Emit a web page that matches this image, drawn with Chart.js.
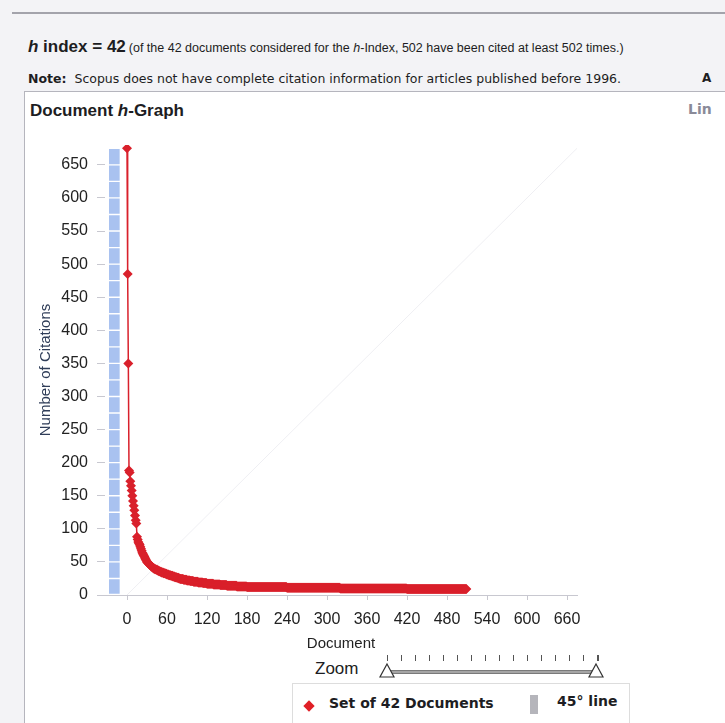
<!DOCTYPE html>
<html>
<head>
<meta charset="utf-8">
<script src="https://cdn.jsdelivr.net/npm/chart.js@4.4.1/dist/chart.umd.min.js"></script>
<style>
  body { margin:0; width:725px; height:723px; overflow:hidden; position:relative; background:#f3f3f6;
         font-family:"Liberation Sans", Arial, sans-serif; color:#1d1d22; }
  .abs { position:absolute; white-space:nowrap; }
  #topRule { left:12px; right:0; top:12px; height:0; border-top:2px solid #a3a3ab; }
  #hIndex { left:28px; top:37px; font-size:17px; font-weight:bold; }
  #hIndex small { font-size:12.5px; font-weight:normal; margin-left:3px; }
  #note { left:28px; top:71px; font-family:"DejaVu Sans", Verdana, sans-serif; font-size:12.5px; }
  #noteA { left:702px; top:71px; font-family:"DejaVu Sans", Verdana, sans-serif; font-size:12px; font-weight:bold; }
  #panel { left:24px; top:91px; width:720px; height:650px; background:#fff;
           border-left:1px solid #b5b5bd; border-top:1px solid #b5b5bd; }
  #graphTitle { left:30px; top:101px; font-size:17px; font-weight:bold; }
  #linkTab { left:688px; top:101px; font-family:"DejaVu Sans", Verdana, sans-serif; font-weight:bold; font-size:14px; color:#8a8a98; }
  #chartBox { left:26px; top:120px; width:600px; height:535px; }
  #zoomLabel { left:315px; top:659px; font-size:17px; }
  #track { left:386px; top:670px; width:210px; height:2px; background:#a5a5a5; border:1px solid #7a7a7a; }
  .ztick { position:absolute; top:655px; width:1px; height:6px; background:#555; }
  #legend { left:292px; top:683px; width:336px; height:50px; background:#fff; border:1px solid #ddd; }
  #legDiamond { left:305px; top:702px; width:8px; height:8px; background:#e01f26; transform:rotate(45deg); }
  #legSet { left:329px; top:695px; font-family:"DejaVu Sans", Verdana, sans-serif; font-weight:bold; font-size:14px; }
  #legBar { left:530px; top:695px; width:8px; height:19px; background:#b5b5bb; }
  #legLine { left:557px; top:693px; font-family:"DejaVu Sans", Verdana, sans-serif; font-weight:bold; font-size:14px; }
</style>
</head>
<body>
<div id="topRule" class="abs"></div>
<div id="hIndex" class="abs"><i>h</i> index = 42<small>(of the 42 documents considered for the <i>h</i>-Index, 502 have been cited at least 502 times.)</small></div>
<div id="note" class="abs"><b>Note:</b>&nbsp; Scopus does not have complete citation information for articles published before 1996.</div>
<div id="noteA" class="abs">A</div>
<div id="panel" class="abs"></div>
<div id="graphTitle" class="abs">Document <i>h</i>-Graph</div>
<div id="linkTab" class="abs">Lin</div>
<div id="chartBox" class="abs"><canvas id="hGraph"></canvas></div>
<div id="zoomLabel" class="abs">Zoom</div>
<div id="track" class="abs"></div>
<svg class="abs" style="left:378px;top:662px" width="18" height="18"><path d="M9 2 L16 15 L2 15 Z" fill="#fff" stroke="#333" stroke-width="1.2"/></svg>
<svg class="abs" style="left:587px;top:662px" width="18" height="18"><path d="M9 2 L16 15 L2 15 Z" fill="#fff" stroke="#333" stroke-width="1.2"/></svg>
<div id="legend" class="abs"></div>
<div id="legDiamond" class="abs"></div>
<div id="legSet" class="abs">Set of 42 Documents</div>
<div id="legBar" class="abs"></div>
<div id="legLine" class="abs">45° line</div>

<script>
// citations per document, sorted high to low (first 40 read one by one)
const topCitations = [675, 485, 350, 188, 185, 172, 165, 158, 150, 142, 135, 128, 120, 113, 108, 88, 84, 80, 78, 76,
  73, 70, 67, 64, 62, 60, 58, 56, 54, 52, 50, 49, 48, 47, 46, 45, 44, 43, 42, 41];
// long tail: citation count and how many documents have it
const tailCitations = [40, 39, 38, 37, 36, 35, 34, 33, 32, 31, 30, 29, 28, 27, 26, 25,
  24, 23, 22, 21, 20, 19, 18, 17, 16, 15, 14, 13, 12, 11, 10, 9];
const tailDocCounts = [2, 2, 2, 2, 2, 2, 3, 3, 2, 3, 3, 3, 3, 3, 3, 2,
  5, 5, 5, 5, 7, 7, 6, 10, 10, 10, 15, 15, 60, 80, 100, 90];

// 45 degree line end points
const diagonalLine = [{ x: 0, y: 0 }, { x: 680, y: 680 }];
// the blue column at the left, in blocks of 25 citations
const columnEdges = [0, 25, 50, 75, 100, 125, 150, 175, 200, 225, 250, 275, 300, 325, 350, 375,
  400, 425, 450, 475, 500, 525, 550, 575, 600, 625, 650, 675];
const columnDoc = -19;

const docTicks = [0, 60, 120, 180, 240, 300, 360, 420, 480, 540, 600, 660];
const citationTicks = [0, 50, 100, 150, 200, 250, 300, 350, 400, 450, 500, 550, 600, 650];

const citations = [...topCitations];
tailCitations.forEach((c, i) => {
  for (let k = 0; k < tailDocCounts[i]; k++) citations.push(c);
});
const docPoints = citations.map((c, i) => ({ x: i, y: c }));

const columnBlocks = [];
for (let i = 0; i < columnEdges.length - 1; i++) {
  columnBlocks.push({ x: columnDoc, y: [columnEdges[i], columnEdges[i + 1]] });
}

const axisFont = { family: "'Liberation Sans', Arial, sans-serif", size: 16 };

new Chart(document.getElementById("hGraph"), {
  type: "line",
  data: {
    datasets: [
      {
        label: "Set of 42 Documents",
        data: docPoints,
        borderColor: "#d9202b",
        borderWidth: 1.5,
        backgroundColor: "#d9202b",
        pointStyle: "rectRot",
        pointRadius: 5,
        pointBorderWidth: 0,
        order: 0,
      },
      {
        label: "45° line",
        data: diagonalLine,
        borderColor: "#efeff3",
        borderWidth: 1,
        pointRadius: 0,
        order: 2,
      },
      {
        type: "bar",
        label: "column",
        data: columnBlocks,
        backgroundColor: "#a9c2f0",
        borderColor: "rgba(255,255,255,0.75)",
        borderWidth: 1,
        borderSkipped: false,
        barThickness: 12,
        order: 1,
      },
    ],
  },
  options: {
    responsive: true,
    maintainAspectRatio: false,
    animation: false,
    events: [],
    layout: { padding: { top: 25, right: 49, left: 0, bottom: 0 } },
    plugins: { legend: { display: false }, tooltip: { enabled: false } },
    scales: {
      x: {
        type: "linear",
        offset: false,
        min: -33,
        max: 675,
        afterBuildTicks: (s) => { s.ticks = docTicks.map((v) => ({ value: v })); },
        afterFit: (s) => { s.height = 60; },
        grid: { offset: false, drawOnChartArea: false, color: "#c8c8d0", tickLength: 5 },
        border: { color: "#c8c8d0" },
        ticks: { color: "#222", font: axisFont, padding: 10, maxRotation: 0 },
        title: { display: true, text: "Document", color: "#222", font: { ...axisFont, size: 15 }, padding: { top: 0, bottom: 2 } },
      },
      y: {
        min: 0,
        max: 680,
        afterBuildTicks: (s) => { s.ticks = citationTicks.map((v) => ({ value: v })); },
        afterFit: (s) => { s.width = 79; },
        grid: { drawOnChartArea: false, color: "#c8c8d0", tickLength: 8 },
        border: { display: false },
        ticks: { color: "#222", font: axisFont, padding: 9 },
        title: { display: true, text: "Number of Citations", color: "#2f3d58", font: { ...axisFont, size: 15 }, padding: { top: 11, bottom: 0 } },
      },
    },
  },
});

// little tick marks above the zoom slider
for (let i = 0; i < 16; i++) {
  const t = document.createElement("div");
  t.className = "ztick";
  t.style.left = 387 + i * 14 + "px";
  if (i === 15) t.style.width = "2px";
  document.body.appendChild(t);
}
</script>
</body>
</html>
